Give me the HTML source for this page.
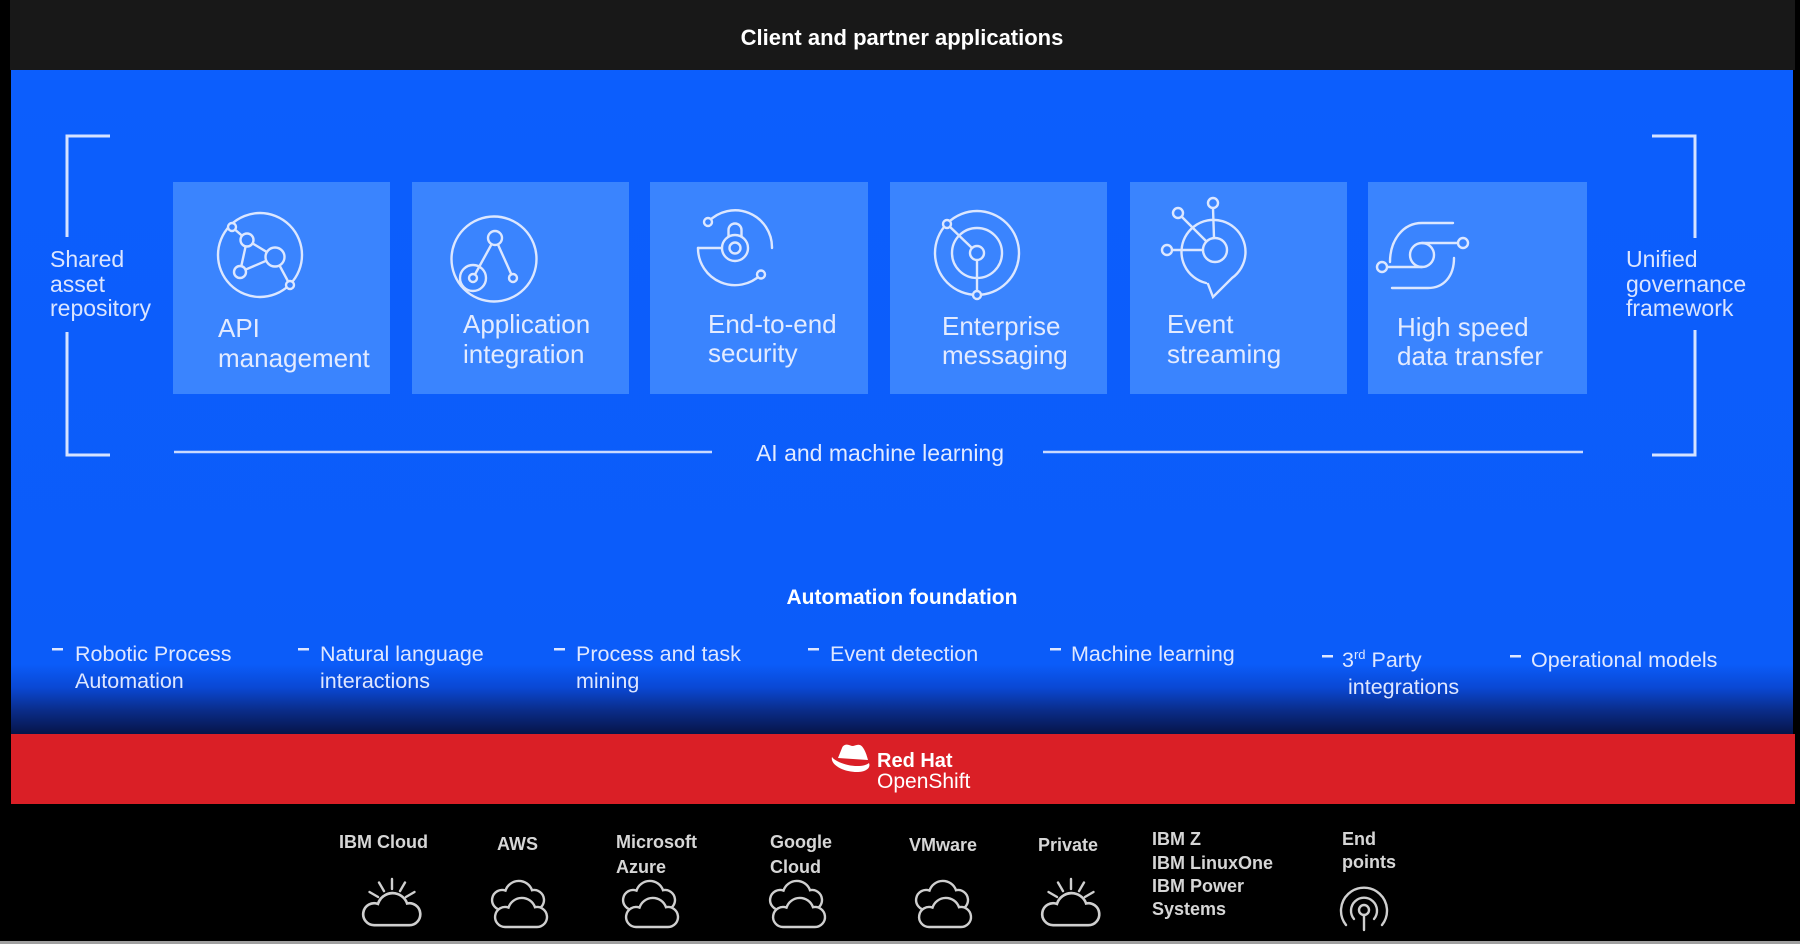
<!DOCTYPE html>
<html>
<head>
<meta charset="utf-8">
<style>
  html,body{margin:0;padding:0;background:#000;}
  body{width:1800px;height:944px;overflow:hidden;}
  svg{display:block;}
  text{font-family:"Liberation Sans",Arial,sans-serif;}
</style>
</head>
<body>
<svg width="1800" height="944" viewBox="0 0 1800 944" xmlns="http://www.w3.org/2000/svg">
  <defs>
    <linearGradient id="bg" x1="0" y1="70" x2="0" y2="734" gradientUnits="userSpaceOnUse">
      <stop offset="0" stop-color="#0c5efd"/>
      <stop offset="0.895" stop-color="#0b5cf9"/>
      <stop offset="0.93" stop-color="#0a48d4"/>
      <stop offset="0.965" stop-color="#0a2c88"/>
      <stop offset="1" stop-color="#061549"/>
    </linearGradient>
    <path id="cl" d="M11,32 A10,10 0 1 1 14.5,12.6 A14,14 0 0 1 41,12.2 A10,10 0 1 1 43,32 Z"/>
  </defs>

  <!-- background -->
  <rect x="0" y="0" width="1800" height="944" fill="#000"/>
  <rect x="10" y="0" width="1785" height="70" fill="#181818"/>
  <rect x="11" y="70" width="1782" height="664" fill="url(#bg)"/>
  <rect x="11" y="734" width="1784" height="70" fill="#da1f26"/>
  <rect x="0" y="941" width="1800" height="3" fill="#9f9f9f"/>

  <!-- top title -->
  <text x="902" y="45" font-size="22" font-weight="bold" fill="#ffffff" text-anchor="middle">Client and partner applications</text>

  <!-- brackets -->
  <g stroke="#d6e2ff" stroke-width="3" fill="none">
    <path d="M110,136 H67 V237"/>
    <path d="M67,332 V455 H110"/>
    <path d="M1652,136 H1695 V238"/>
    <path d="M1695,330 V455 H1652"/>
  </g>
  <g font-size="23" fill="#dbe5ff">
    <text x="50" y="267">Shared</text>
    <text x="50" y="292">asset</text>
    <text x="50" y="316">repository</text>
    <text x="1626" y="267">Unified</text>
    <text x="1626" y="292">governance</text>
    <text x="1626" y="316">framework</text>
  </g>

  <!-- cards -->
  <g fill="#3a84fe">
    <rect x="173" y="182" width="217" height="212"/>
    <rect x="412" y="182" width="217" height="212"/>
    <rect x="650" y="182" width="218" height="212"/>
    <rect x="890" y="182" width="217" height="212"/>
    <rect x="1130" y="182" width="217" height="212"/>
    <rect x="1368" y="182" width="219" height="212"/>
  </g>

  <g font-size="26" fill="#e3ebff">
    <text x="218" y="337">API</text>
    <text x="218" y="367">management</text>
    <text x="463" y="333">Application</text>
    <text x="463" y="363">integration</text>
    <text x="708" y="333">End-to-end</text>
    <text x="708" y="362">security</text>
    <text x="942" y="335">Enterprise</text>
    <text x="942" y="364">messaging</text>
    <text x="1167" y="333">Event</text>
    <text x="1167" y="363">streaming</text>
    <text x="1397" y="336">High speed</text>
    <text x="1397" y="365">data transfer</text>
  </g>

  <!-- card icons -->
  <g stroke="#dce7ff" stroke-width="2.4" fill="none" stroke-linecap="round">
    <!-- API management -->
    <circle cx="260" cy="255" r="42"/>
    <path d="M232,227 L247,240 L275,257 L290,285 M247,240 L240,272 L275,257"/>
    <g fill="#3a84fe">
      <circle cx="232" cy="227" r="4"/>
      <circle cx="247" cy="240" r="6.5"/>
      <circle cx="275" cy="257" r="9.5"/>
      <circle cx="240" cy="272" r="6"/>
      <circle cx="290" cy="285" r="4"/>
    </g>

    <!-- Application integration -->
    <circle cx="494" cy="259" r="42.5"/>
    <path d="M495,238 L473,278 M495,238 L513,278"/>
    <g fill="#3a84fe">
      <circle cx="495" cy="238" r="7"/>
      <circle cx="473" cy="278" r="13" fill="none"/>
      <circle cx="473" cy="278" r="4"/>
      <circle cx="513" cy="278" r="4"/>
    </g>

    <!-- Security -->
    <path d="M708,222 A37,37 0 0 1 772,248"/>
    <path d="M698,248 A37,37 0 0 0 761,274.5"/>
    <path d="M698,248 H722"/>
    <path d="M728.5,237 V230 A6.5,6.5 0 0 1 741.5,230 V237"/>
    <circle cx="735" cy="248" r="13" fill="#3a84fe"/>
    <circle cx="735" cy="248" r="5.5"/>
    <circle cx="708" cy="222" r="4" fill="#3a84fe"/>
    <circle cx="761" cy="274.5" r="4" fill="#3a84fe"/>

    <!-- Messaging -->
    <circle cx="977" cy="253" r="42"/>
    <circle cx="977" cy="253" r="25"/>
    <path d="M947,224 L972,248 M977,260 L977,291"/>
    <circle cx="977" cy="253" r="7" fill="#3a84fe"/>
    <circle cx="947" cy="224" r="4" fill="#3a84fe"/>
    <circle cx="977" cy="295" r="4" fill="#3a84fe"/>

    <!-- Event streaming -->
    <path d="M1206,283 A32,32 0 1 1 1232,278 L1213,297 L1208,284"/>
    <path d="M1213,208 L1214,238 M1181.5,216.5 L1206.5,241.5 M1172,250 L1203,250"/>
    <circle cx="1215" cy="250" r="12" fill="#3a84fe"/>
    <circle cx="1213" cy="203" r="5" fill="#3a84fe"/>
    <circle cx="1178" cy="213" r="5" fill="#3a84fe"/>
    <circle cx="1167" cy="250" r="5" fill="#3a84fe"/>

    <!-- High speed data transfer -->
    <path d="M1453,223 H1422 C1403,223 1390,240 1390,262"/>
    <path d="M1392,288 H1428 C1444,288 1454,276 1454,258"/>
    <path d="M1387,267 H1422 M1422,243 H1458"/>
    <circle cx="1422" cy="255" r="12"/>
    <circle cx="1382" cy="267" r="5" fill="#3a84fe"/>
    <circle cx="1463" cy="243" r="5" fill="#3a84fe"/>
  </g>

  <!-- AI and machine learning -->
  <g stroke="#c9d9ff" stroke-width="2.5">
    <line x1="174" y1="452" x2="712" y2="452"/>
    <line x1="1043" y1="452" x2="1583" y2="452"/>
  </g>
  <text x="880" y="461" font-size="23" fill="#e3ebff" text-anchor="middle">AI and machine learning</text>

  <!-- Automation foundation -->
  <text x="902" y="604" font-size="21" font-weight="bold" fill="#ffffff" text-anchor="middle">Automation foundation</text>

  <g fill="#dfe7ff">
    <rect x="52" y="648" width="11" height="2.5"/>
    <rect x="298" y="648" width="11" height="2.5"/>
    <rect x="554" y="648" width="11" height="2.5"/>
    <rect x="808" y="648" width="11" height="2.5"/>
    <rect x="1050" y="648" width="11" height="2.5"/>
    <rect x="1322" y="655" width="11" height="2.5"/>
    <rect x="1510" y="655" width="11" height="2.5"/>
  </g>
  <g font-size="21.5" fill="#dfe7ff">
    <text x="75" y="661">Robotic Process</text>
    <text x="75" y="688">Automation</text>
    <text x="320" y="661">Natural language</text>
    <text x="320" y="688">interactions</text>
    <text x="576" y="661">Process and task</text>
    <text x="576" y="688">mining</text>
    <text x="830" y="661">Event detection</text>
    <text x="1071" y="661">Machine learning</text>
    <text x="1342" y="667">3<tspan font-size="13" dy="-8">rd</tspan><tspan dy="8"> Party</tspan></text>
    <text x="1348" y="694">integrations</text>
    <text x="1531" y="667">Operational models</text>
  </g>

  <!-- Red Hat OpenShift -->
  <g fill="#ffffff">
    <path d="M838,758 L842,748 C843,745 846,744 849,745 L852,746 C855,746 857,744 860,745 C863,746 866,752 868,760 Z"/>
    <path d="M832,757 C830,764 842,772 857,772 C866,772 871,768 869,763 C866,766 857,767 848,765 C840,763 834,760 832,757 Z"/>
  </g>
  <text x="877" y="767" font-size="20" font-weight="bold" fill="#ffffff">Red Hat</text>
  <text x="877" y="788" font-size="21" fill="#ffffff">OpenShift</text>

  <!-- bottom labels -->
  <g font-size="18" font-weight="bold" fill="#d6d6d6">
    <text x="339" y="848">IBM Cloud</text>
    <text x="497" y="850">AWS</text>
    <text x="616" y="848">Microsoft</text>
    <text x="616" y="873">Azure</text>
    <text x="770" y="848">Google</text>
    <text x="770" y="873">Cloud</text>
    <text x="909" y="851">VMware</text>
    <text x="1038" y="851">Private</text>
    <text x="1152" y="845">IBM Z</text>
    <text x="1152" y="869">IBM LinuxOne</text>
    <text x="1152" y="892">IBM Power</text>
    <text x="1152" y="915">Systems</text>
    <text x="1342" y="845">End</text>
    <text x="1342" y="868">points</text>
  </g>

  <!-- bottom icons -->
  <g stroke="#cfcfcf" stroke-width="2.4" fill="none" stroke-linecap="round">
    <!-- IBM Cloud: sun + cloud -->
    <circle cx="392" cy="905" r="12"/>
    <g transform="translate(392,905)">
      <line x1="-13.9" y1="-8" x2="-22.5" y2="-13"/>
      <line x1="-8" y1="-13.9" x2="-13" y2="-22.5"/>
      <line x1="0" y1="-16" x2="0" y2="-26"/>
      <line x1="8" y1="-13.9" x2="13" y2="-22.5"/>
      <line x1="13.9" y1="-8" x2="22.5" y2="-13"/>
    </g>
    <use href="#cl" transform="translate(362,890) scale(1.1)" fill="#000"/>

    <!-- AWS -->
    <use href="#cl" transform="translate(491,878)"/>
    <use href="#cl" transform="translate(494,895)" fill="#000"/>
    <!-- Azure -->
    <use href="#cl" transform="translate(622,878)"/>
    <use href="#cl" transform="translate(625,895)" fill="#000"/>
    <!-- Google -->
    <use href="#cl" transform="translate(769,878)"/>
    <use href="#cl" transform="translate(772,895)" fill="#000"/>
    <!-- VMware -->
    <use href="#cl" transform="translate(915,878)"/>
    <use href="#cl" transform="translate(918,895)" fill="#000"/>

    <!-- Private: sun + cloud -->
    <circle cx="1071" cy="905" r="12"/>
    <g transform="translate(1071,905)">
      <line x1="-13.9" y1="-8" x2="-22.5" y2="-13"/>
      <line x1="-8" y1="-13.9" x2="-13" y2="-22.5"/>
      <line x1="0" y1="-16" x2="0" y2="-26"/>
      <line x1="8" y1="-13.9" x2="13" y2="-22.5"/>
      <line x1="13.9" y1="-8" x2="22.5" y2="-13"/>
    </g>
    <use href="#cl" transform="translate(1041,890) scale(1.1)" fill="#000"/>

    <!-- End points antenna -->
    <circle cx="1364" cy="910" r="5"/>
    <path d="M1354,919 A13,13 0 1 1 1374,919"/>
    <path d="M1346,925 A23,23 0 1 1 1382,925"/>
    <line x1="1364" y1="915" x2="1364" y2="930"/>
  </g>
</svg>
</body>
</html>
